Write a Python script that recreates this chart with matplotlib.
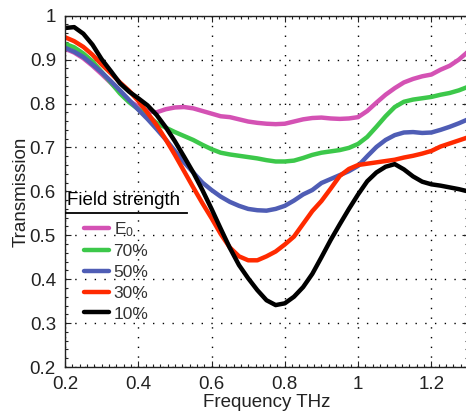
import matplotlib
matplotlib.use("Agg")
import matplotlib.pyplot as plt
from matplotlib.ticker import MultipleLocator

plt.rcParams['font.family'] = ['Liberation Sans', 'DejaVu Sans']
plt.rcParams['mathtext.fontset'] = 'custom'
plt.rcParams['mathtext.rm'] = 'Liberation Sans'
plt.rcParams['mathtext.it'] = 'Liberation Sans'

freq = [0.200, 0.225, 0.250, 0.275, 0.300, 0.325, 0.350, 0.375, 0.400, 0.425, 0.450,
        0.475, 0.500, 0.525, 0.550, 0.575, 0.600, 0.625, 0.650, 0.675, 0.700, 0.725,
        0.750, 0.775, 0.800, 0.825, 0.850, 0.875, 0.900, 0.925, 0.950, 0.975, 1.000,
        1.025, 1.050, 1.075, 1.100, 1.125, 1.150, 1.175, 1.200, 1.225, 1.250, 1.275, 1.300]

e0 = [0.925, 0.916, 0.903, 0.886, 0.867, 0.847, 0.826, 0.806, 0.793, 0.783, 0.780,
      0.787, 0.791, 0.792, 0.789, 0.783, 0.777, 0.771, 0.769, 0.764, 0.759, 0.756,
      0.754, 0.753, 0.754, 0.759, 0.764, 0.767, 0.768, 0.766, 0.765, 0.766, 0.769,
      0.783, 0.802, 0.820, 0.835, 0.848, 0.856, 0.862, 0.866, 0.877, 0.886, 0.900, 0.918]
p70 = [0.936, 0.928, 0.914, 0.896, 0.872, 0.848, 0.823, 0.803, 0.787, 0.772, 0.756,
       0.745, 0.735, 0.726, 0.717, 0.706, 0.696, 0.688, 0.684, 0.681, 0.678, 0.675,
       0.671, 0.668, 0.668, 0.670, 0.676, 0.683, 0.688, 0.691, 0.694, 0.699, 0.708,
       0.724, 0.747, 0.771, 0.792, 0.804, 0.809, 0.812, 0.815, 0.820, 0.824, 0.830, 0.838]
p50 = [0.927, 0.918, 0.906, 0.889, 0.871, 0.851, 0.830, 0.808, 0.786, 0.765, 0.742,
       0.718, 0.692, 0.666, 0.643, 0.620, 0.603, 0.588, 0.576, 0.567, 0.560, 0.557,
       0.556, 0.560, 0.567, 0.579, 0.593, 0.603, 0.619, 0.628, 0.637, 0.646, 0.658,
       0.680, 0.701, 0.717, 0.728, 0.734, 0.735, 0.733, 0.734, 0.740, 0.747, 0.755, 0.764]
p30 = [0.951, 0.942, 0.929, 0.911, 0.889, 0.869, 0.848, 0.829, 0.806, 0.779, 0.751,
       0.718, 0.683, 0.646, 0.609, 0.573, 0.539, 0.503, 0.472, 0.452, 0.443, 0.443,
       0.452, 0.463, 0.479, 0.497, 0.526, 0.555, 0.578, 0.606, 0.635, 0.651, 0.660,
       0.663, 0.666, 0.669, 0.672, 0.677, 0.681, 0.686, 0.692, 0.702, 0.709, 0.716, 0.723]
p10 = [0.972, 0.974, 0.959, 0.934, 0.901, 0.874, 0.846, 0.827, 0.812, 0.796, 0.774,
       0.746, 0.714, 0.679, 0.643, 0.603, 0.560, 0.515, 0.471, 0.432, 0.402, 0.375,
       0.352, 0.341, 0.345, 0.360, 0.382, 0.412, 0.450, 0.489, 0.525, 0.560, 0.593,
       0.623, 0.643, 0.656, 0.662, 0.650, 0.634, 0.622, 0.616, 0.613, 0.609, 0.605, 0.600]

labels = [r'E$_{0}$', '70%', '50%', '30%', '10%']
series = [e0, p70, p50, p30, p10]
colors = ['#d452b4', '#3cc84a', '#4f5db5', '#ff2a00', '#000000']

W, H = 466, 413
fig = plt.figure(figsize=(W / 100, H / 100), dpi=100)
ax = fig.add_axes([65 / W, 46 / H, 403 / W, 351.3 / H])

handles = []
for ys, c, lab in zip(series, colors, labels):
    ln, = ax.plot(freq, ys, color=c, lw=3.2, label=lab, solid_capstyle='round',
                  solid_joinstyle='round')
    handles.append(ln)

ax.set_xlim(0.2, 1.3)
ax.set_ylim(0.2, 1.0)
ax.xaxis.set_major_locator(MultipleLocator(0.2))
ax.yaxis.set_major_locator(MultipleLocator(0.1))
ax.xaxis.set_minor_locator(MultipleLocator(0.02))
ax.yaxis.set_minor_locator(MultipleLocator(0.02))
ax.grid(True, which='major', color='#000000', linestyle=(0, (1, 6)), lw=1.0)
ax.tick_params(which='both', direction='in', top=True, right=True, colors='#222222',
               labelsize=13.5, width=0.8, pad=6.5)
ax.tick_params(which='major', length=4)
ax.tick_params(which='minor', length=2)
ax.xaxis.set_major_formatter(plt.FuncFormatter(lambda v, p: f'{v:g}'))
ax.yaxis.set_major_formatter(plt.FuncFormatter(lambda v, p: f'{v:g}'))
for s in ax.spines.values():
    s.set_linewidth(1.0)
    s.set_color('#222222')

ax.set_xlabel('Frequency THz', fontsize=13.5, color='#222222', labelpad=1)
ax.set_ylabel('Transmission', fontsize=13.5, color='#222222', labelpad=0)

# legend title with underline
fig.text(67 / W, 1 - 205 / H, 'Field strength', fontsize=13.5, color='#000000',
         ha='left', va='baseline')
fig.add_artist(plt.Line2D([66 / W, 187 / W], [1 - 212.5 / H, 1 - 212.5 / H],
                          color='#000000', lw=1.3))
leg = ax.legend(handles=handles, labels=labels, loc='upper left',
                bbox_to_anchor=(84 / W, 1 - 220 / H), bbox_transform=fig.transFigure,
                frameon=False, fontsize=12.5, handlelength=1.45, handletextpad=0.25,
                labelspacing=0.32, borderaxespad=0, borderpad=0)
for t in leg.get_texts():
    t.set_color('#333333')

fig.savefig('out.png', dpi=100)
